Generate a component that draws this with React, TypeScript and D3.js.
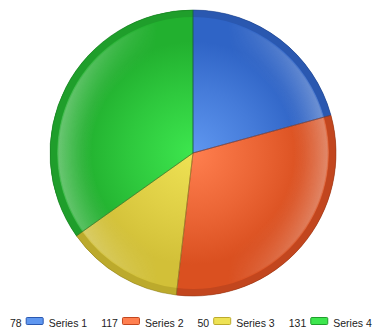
import React, { useEffect, useRef } from "react";
import * as d3 from "d3";

const seriesNames = ["Series 1", "Series 2", "Series 3", "Series 4"];
const seriesValues = [78, 117, 50, 131];
const baseColors = ["#2f64c6", "#da5020", "#d2c038", "#22b02f"];
const lightColors = ["#5f97f0", "#ff7f4f", "#eee254", "#3de64e"];
const rimColors = ["#2a58b0", "#c2461e", "#bcaa2c", "#1f9e2b"];

const W = 384;
const H = 336;

export default function App() {
  const ref = useRef<SVGSVGElement>(null);

  useEffect(() => {
    const svg = d3.select(ref.current);
    svg.selectAll("*").remove();

    const cx = 193;
    const cy = 153;
    const r = 143;
    const rimW = 7;

    const defs = svg.append("defs");

    // slice fills, centred on the pie's own origin (slices live in a translated group)
    seriesValues.forEach((_, i) => {
      const g = defs
        .append("radialGradient")
        .attr("id", `fill${i}`)
        .attr("gradientUnits", "userSpaceOnUse")
        .attr("cx", 0)
        .attr("cy", 0)
        .attr("r", r);
      g.append("stop").attr("offset", 0).attr("stop-color", lightColors[i]);
      g.append("stop").attr("offset", 0.45).attr("stop-color", d3.interpolateRgb(lightColors[i], baseColors[i])(0.55));
      g.append("stop").attr("offset", 0.78).attr("stop-color", baseColors[i]);
      g.append("stop").attr("offset", 1).attr("stop-color", baseColors[i]);
    });

    // glossy band just inside the rim
    const gloss = defs
      .append("radialGradient")
      .attr("id", "gloss")
      .attr("gradientUnits", "userSpaceOnUse")
      .attr("cx", cx)
      .attr("cy", cy)
      .attr("r", r - rimW);
    gloss.append("stop").attr("offset", 0.74).attr("stop-color", "#fff").attr("stop-opacity", 0);
    gloss.append("stop").attr("offset", 0.985).attr("stop-color", "#eee").attr("stop-opacity", 0.38);
    gloss.append("stop").attr("offset", 1).attr("stop-color", "#eee").attr("stop-opacity", 0.1);

    const sideFade = defs
      .append("linearGradient")
      .attr("id", "sideFade")
      .attr("x1", 0)
      .attr("x2", 1)
      .attr("y1", 0)
      .attr("y2", 0);
    sideFade.append("stop").attr("offset", 0).attr("stop-color", "#fff");
    sideFade.append("stop").attr("offset", 0.38).attr("stop-color", "#000");
    sideFade.append("stop").attr("offset", 0.62).attr("stop-color", "#000");
    sideFade.append("stop").attr("offset", 1).attr("stop-color", "#fff");
    defs
      .append("mask")
      .attr("id", "sides")
      .attr("maskUnits", "userSpaceOnUse")
      .attr("x", 0)
      .attr("y", 0)
      .attr("width", W)
      .attr("height", H)
      .append("rect")
      .attr("x", cx - r)
      .attr("y", cy - r)
      .attr("width", 2 * r)
      .attr("height", 2 * r)
      .attr("fill", "url(#sideFade)");

    const pie = d3.pie<number>().sort(null).value((d) => d);
    const arcs = pie(seriesValues);

    const full = d3.arc<d3.PieArcDatum<number>>().innerRadius(0).outerRadius(r);
    const rim = d3.arc<d3.PieArcDatum<number>>().innerRadius(r - rimW).outerRadius(r);

    const root = svg.append("g").attr("transform", `translate(${cx},${cy})`);

    root
      .selectAll("path.slice")
      .data(arcs)
      .join("path")
      .attr("class", "slice")
      .attr("d", full)
      .attr("fill", (_, i) => `url(#fill${i})`);

    svg
      .append("circle")
      .attr("cx", cx)
      .attr("cy", cy)
      .attr("r", r - rimW)
      .attr("fill", "url(#gloss)")
      .attr("mask", "url(#sides)");

    const top = svg.append("g").attr("transform", `translate(${cx},${cy})`);

    top
      .selectAll("path.rim")
      .data(arcs)
      .join("path")
      .attr("class", "rim")
      .attr("d", rim)
      .attr("fill", (_, i) => rimColors[i]);

    top
      .selectAll("path.edge")
      .data(arcs)
      .join("path")
      .attr("class", "edge")
      .attr("d", full)
      .attr("fill", "none")
      .attr("stroke", (_, i) => d3.color(rimColors[i])!.darker(0.8).formatHex())
      .attr("stroke-width", 0.8)
      .attr("stroke-opacity", 0.7);

    // legend
    const legend = svg
      .append("g")
      .attr("font-family", "Liberation Sans, Arial, sans-serif")
      .attr("font-size", 10.5)
      .attr("fill", "#222");
    let x = 10;
    const baseY = 327;
    seriesValues.forEach((v, i) => {
      const vt = legend.append("text").attr("x", x).attr("y", baseY).text(String(v));
      x += (vt.node() as SVGTextElement).getComputedTextLength() + 4;
      legend
        .append("rect")
        .attr("x", x + 0.5)
        .attr("y", 317.5)
        .attr("width", 17)
        .attr("height", 7)
        .attr("rx", 1)
        .attr("fill", lightColors[i])
        .attr("stroke", rimColors[i]);
      x += 23;
      const nt = legend.append("text").attr("x", x).attr("y", baseY).text(seriesNames[i]);
      x += (nt.node() as SVGTextElement).getComputedTextLength() + 14;
    });
  }, []);

  return <svg ref={ref} width={W} height={H} style={{ display: "block", margin: "-8px" }} />;
}
